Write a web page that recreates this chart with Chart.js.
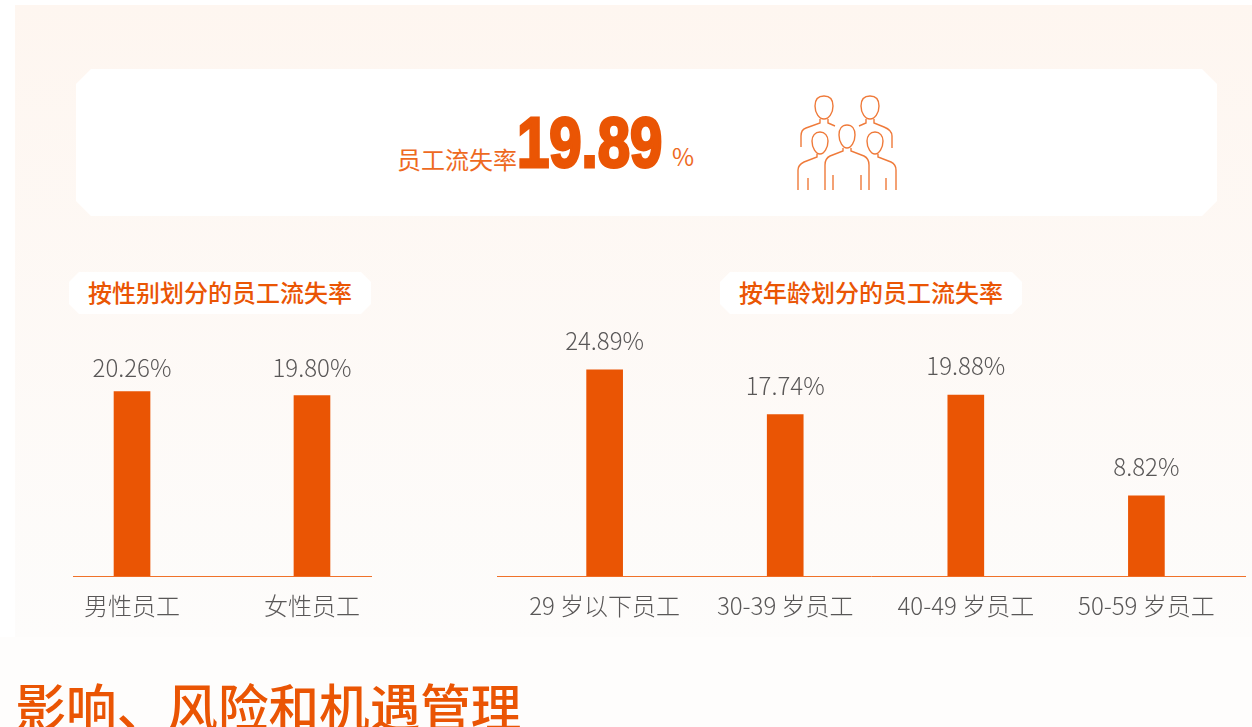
<!DOCTYPE html>
<html lang="zh">
<head>
<meta charset="utf-8">
<title>员工流失率</title>
<script src="https://cdn.jsdelivr.net/npm/chart.js@4"></script>
<style>
html, body { margin: 0; padding: 0; background: #fff; }
body { width: 1252px; height: 727px; overflow: hidden; position: relative; font-family: "Noto Sans CJK SC", sans-serif; }
.panel { position: absolute; left: 15px; top: 5px; width: 1237px; height: 632px; background: linear-gradient(#fef6f0, #fdfcfb); }
.band { position: absolute; left: 0; top: 637px; width: 1252px; height: 90px; background: #fefdfc; }
.card { position: absolute; left: 76px; top: 69px; width: 1141px; height: 147px; background: #fff;
    clip-path: polygon(15px 0, calc(100% - 15px) 0, 100% 15px, 100% calc(100% - 15px), calc(100% - 15px) 100%, 15px 100%, 0 calc(100% - 15px), 0 15px); }
.pill { position: absolute; top: 272px; width: 302px; height: 42px; line-height: 40px; background: #fff; color: #ea5504;
    font-size: 24px; font-weight: 500; text-align: center;
    clip-path: polygon(10px 0, calc(100% - 10px) 0, 100% 10px, 100% calc(100% - 10px), calc(100% - 10px) 100%, 10px 100%, 0 calc(100% - 10px), 0 10px); }
.rate-label { position: absolute; left: 397px; top: 142px; font-size: 24px; line-height: 34px; color: #ee6a1f; font-weight: 400; }
.rate-value { position: absolute; left: 517px; top: 101px; font-family: "Liberation Sans"; font-weight: 700; font-size: 70px; line-height: 84px;
    color: #ea5504; -webkit-text-stroke: 3px #ea5504; transform-origin: left top; transform: scaleX(0.83); white-space: nowrap; }
.rate-unit { position: absolute; left: 672px; top: 139px; font-size: 24px; line-height: 34px; color: #ee6a1f; }
.icon { position: absolute; left: 790px; top: 90px; }
h1 { position: absolute; left: 15.5px; top: 669px; margin: 0; font-size: 50.6px; line-height: 72px; font-weight: 500; color: #ea5504; white-space: nowrap; }
.chart { position: absolute; }
</style>
</head>
<body>
<div class="panel"></div>
<div class="band"></div>
<div class="card"></div>
<div class="rate-label">员工流失率</div>
<div class="rate-value">19.89</div>
<div class="rate-unit">%</div>
<svg class="icon" width="112" height="104" viewBox="0 0 112 104" fill="none" stroke="#ef7a3a" stroke-width="1.4">
    <path d="M34 6c-6 0-9 4-9 10 0 7 4 13 9 13s9-6 9-13c0-6-3-10-9-10zM30 29v4l-14 5c-3 1-5 4-5 8v11M38 29v4l7 3"/>
    <path d="M80 6c-6 0-9 4-9 10 0 7 4 13 9 13s9-6 9-13c0-6-3-10-9-10zM76 29v4l-7 3M84 29v4l10 4c5 2 8 5 8 9v12"/>
    <path d="M30 42c-5 0-8 4-8 9 0 7 4 13 8 13s8-6 8-13c0-5-3-9-8-9zM27 64v3l-13 5c-4 2-6 4-6 8v20M18 88v12"/>
    <path d="M57 35c-5 0-8 4-8 10 0 7 4 13 8 13s8-6 8-13c0-6-3-10-8-10zM53 58v3l-13 5c-4 2-5 5-5 9v25M43 85v15M71 85v15M61 58v3l13 5c4 2 5 5 5 9v25"/>
    <path d="M85 42c-5 0-8 4-8 9 0 7 4 13 8 13s8-6 8-13c0-5-3-9-8-9zM88 64v3l13 5c4 2 5 4 5 8v20M96 88v12"/>
</svg>
<div class="pill" style="left:69px">按性别划分的员工流失率</div>
<div class="pill" style="left:720px">按年龄划分的员工流失率</div>
<div class="chart" style="left:43px;top:330px;width:358px;height:305px"><canvas id="genderChart"></canvas></div>
<div class="chart" style="left:467px;top:310px;width:785px;height:325px"><canvas id="ageChart"></canvas></div>
<h1>影响、风险和机遇管理</h1>

<script>
var genderCategories = ['男性员工', '女性员工'];
var genderValues = [20.26, 19.80];
var genderLabels = ['20.26%', '19.80%'];

var ageCategories = ['29 岁以下员工', '30-39 岁员工', '40-49 岁员工', '50-59 岁员工'];
// the source draws its first bar shorter than the 24.89% printed above it,
// so the height is read from the bar and the label is kept as printed
var ageValues = [22.65, 17.74, 19.88, 8.82];
var ageLabels = ['24.89%', '17.74%', '19.88%', '8.82%'];

var FONT = '"Noto Sans CJK SC", sans-serif';
var ORANGE = '#ea5504';
var GREY = '#595757';

var valueLabels = {
    id: 'valueLabels',
    afterDatasetsDraw: function (chart) {
        var ctx = chart.ctx;
        var opts = chart.options.plugins.valueLabels;
        var bars = chart.getDatasetMeta(0).data;
        // gender labels share one line above the taller bar, age labels follow each bar
        var top = Math.min.apply(null, bars.map(function (b) { return b.y; }));
        ctx.save();
        ctx.font = '300 24px ' + FONT;
        ctx.fillStyle = GREY;
        ctx.textAlign = 'center';
        ctx.textBaseline = 'bottom';
        bars.forEach(function (bar, i) {
            ctx.fillText(opts.texts[i], bar.x, (opts.sameLine ? top : bar.y) - opts.gap);
        });
        ctx.restore();
    }
};

function drawBars(id, categories, values, texts, labelOpts, xMin, xMax, yMax, padding) {
    var ctx = document.getElementById(id).getContext('2d');
    return new Chart(ctx, {
        type: 'bar',
        data: {
            datasets: [{
                data: values.map(function (v, i) { return { x: i, y: v }; }),
                backgroundColor: ORANGE,
                barThickness: 36
            }]
        },
        options: {
            responsive: true,
            maintainAspectRatio: false,
            animation: false,
            layout: { padding: padding },
            plugins: {
                legend: { display: false },
                tooltip: { enabled: false },
                valueLabels: { texts: texts, gap: labelOpts.gap, sameLine: labelOpts.sameLine }
            },
            scales: {
                x: {
                    type: 'linear',
                    offset: false,
                    min: xMin,
                    max: xMax,
                    afterBuildTicks: function (scale) {
                        scale.ticks = categories.map(function (c, i) { return { value: i }; });
                    },
                    grid: { display: false, drawTicks: false, offset: false },
                    border: { color: '#f0722a', width: 1 },
                    ticks: {
                        autoSkip: false,
                        maxRotation: 0,
                        padding: 15,
                        color: GREY,
                        font: { family: FONT, size: 24, weight: '300' },
                        callback: function (value) { return categories[value]; }
                    }
                },
                y: { display: false, min: 0, max: yMax }
            }
        },
        plugins: [valueLabels]
    });
}

drawBars('genderChart', genderCategories, genderValues, genderLabels, { gap: 12, sameLine: true }, -0.328, 1.328, 27, { left: 30, right: 30 });
drawBars('ageChart', ageCategories, ageValues, ageLabels, { gap: 17, sameLine: false }, -0.596, 3.546, 29.2, { left: 30, right: 7 });
</script>
</body>
</html>
